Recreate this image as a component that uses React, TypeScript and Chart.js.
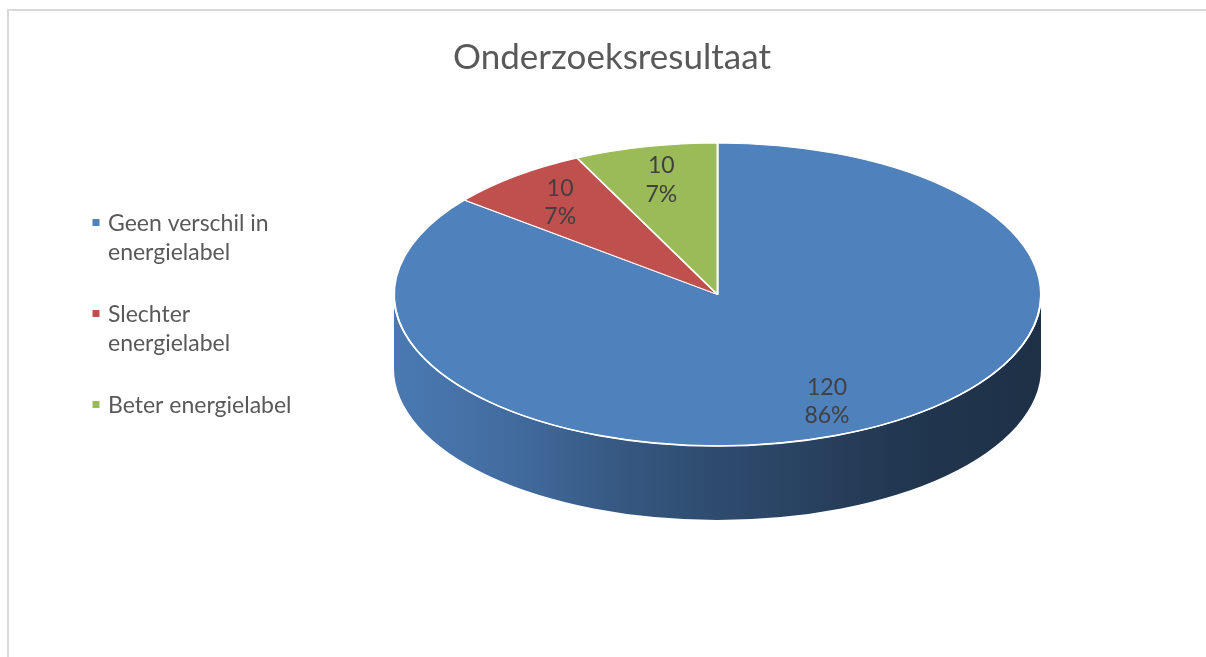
import React, { useEffect, useRef } from 'react';
import { Chart, registerables } from 'chart.js';

Chart.register(...registerables);

// ---- data ----
const categories = ['Geen verschil in energielabel', 'Slechter energielabel', 'Beter energielabel'];
const values = [120, 10, 10];
const colors = ['#4F81BD', '#C0504D', '#9BBB59'];
const chartTitle = 'Onderzoeksresultaat';

// ---- layout / style ----
const W = 1206;
const H = 657;
const CX = 717.5;
const CY = 294.5;
const RX = 323.5;
const RY = 151.5;
const DEPTH = 74;
const K = RY / RX;
const FONT = 'Lato, "Open Sans", "Noto Sans", sans-serif';
const TEXT_GREY = '#595959';
const LABEL_COLOR = '#404040';

function hexToRgb(hex: string) {
  const h = hex.replace('#', '');
  return [parseInt(h.slice(0, 2), 16), parseInt(h.slice(2, 4), 16), parseInt(h.slice(4, 6), 16)];
}
function shade(hex: string, f: number) {
  const [r, g, b] = hexToRgb(hex);
  return `rgb(${Math.round(r * f)},${Math.round(g * f)},${Math.round(b * f)})`;
}

const sideStops: [number, number][] = [
  [0, 0.94],
  [0.18, 0.84],
  [0.35, 0.68],
  [0.5, 0.58],
  [0.65, 0.5],
  [0.8, 0.42],
  [1, 0.37],
];

function wrapText(ctx: CanvasRenderingContext2D, text: string, maxWidth: number) {
  const words = text.split(' ');
  const lines: string[] = [];
  let cur = '';
  for (const w of words) {
    const test = cur ? cur + ' ' + w : w;
    if (ctx.measureText(test).width > maxWidth && cur) {
      lines.push(cur);
      cur = w;
    } else cur = test;
  }
  if (cur) lines.push(cur);
  return lines;
}

const pie3dPlugin = {
  id: 'pie3d',
  beforeDraw(chart: any) {
    const ctx = chart.ctx as CanvasRenderingContext2D;
    ctx.save();
    ctx.fillStyle = '#d9d9d9';
    ctx.fillRect(7, 9, 2, H - 9);
    ctx.fillRect(7, 9, W - 7, 2);
    ctx.restore();
  },
  beforeDatasetsDraw(chart: any) {
    const ctx = chart.ctx as CanvasRenderingContext2D;
    const meta = chart.getDatasetMeta(0);
    const first = meta.data[0];
    if (!first) return;
    const { x, y } = first.getProps(['x', 'y'], true);
    meta.data.forEach((el: any, i: number) => {
      const { startAngle, endAngle, outerRadius } = el.getProps(['startAngle', 'endAngle', 'outerRadius'], true);
      const R = outerRadius;
      const grad = ctx.createLinearGradient(x - R, 0, x + R, 0);
      sideStops.forEach(([p, f]) => grad.addColorStop(p, shade(colors[i], f)));
      for (let n = -1; n <= 1; n++) {
        const a = Math.max(startAngle, 2 * Math.PI * n);
        const b = Math.min(endAngle, 2 * Math.PI * n + Math.PI);
        if (b <= a) continue;
        ctx.save();
        ctx.beginPath();
        ctx.ellipse(x, y, R, R * K, 0, a, b, false);
        ctx.lineTo(x + R * Math.cos(b), y + R * K * Math.sin(b) + DEPTH);
        ctx.ellipse(x, y + DEPTH, R, R * K, 0, b, a, true);
        ctx.closePath();
        ctx.fillStyle = grad;
        ctx.fill();
        ctx.restore();
      }
    });
    ctx.save();
    ctx.translate(x, y);
    ctx.scale(1, K);
    ctx.translate(-x, -y);
  },
  afterDatasetsDraw(chart: any) {
    const ctx = chart.ctx as CanvasRenderingContext2D;
    ctx.restore();
    const meta = chart.getDatasetMeta(0);
    const data = chart.data.datasets[0].data as number[];
    const total = data.reduce((s, v) => s + v, 0);
    // white rim between top face and side
    const first = meta.data[0];
    if (first) {
      const { x, y, outerRadius } = first.getProps(['x', 'y', 'outerRadius'], true);
      ctx.save();
      ctx.strokeStyle = '#ffffff';
      ctx.lineWidth = 1.6;
      ctx.beginPath();
      ctx.ellipse(x, y, outerRadius, outerRadius * K, 0, 0, Math.PI, false);
      ctx.stroke();
      ctx.restore();
    }
    ctx.save();
    ctx.font = `23px ${FONT}`;
    ctx.fillStyle = LABEL_COLOR;
    ctx.textAlign = 'center';
    ctx.textBaseline = 'alphabetic';
    meta.data.forEach((el: any, i: number) => {
      const { startAngle, endAngle, outerRadius, x, y } = el.getProps(
        ['startAngle', 'endAngle', 'outerRadius', 'x', 'y'],
        true
      );
      const m = (startAngle + endAngle) / 2;
      const f = 0.78;
      const px = x + f * outerRadius * Math.cos(m);
      const py = y + f * outerRadius * K * Math.sin(m);
      const pct = Math.round((data[i] / total) * 100) + '%';
      ctx.fillText(String(data[i]), px, py - 14.25 + 8);
      ctx.fillText(pct, px, py + 14.25 + 8);
    });
    ctx.restore();
  },
  afterDraw(chart: any) {
    const ctx = chart.ctx as CanvasRenderingContext2D;
    ctx.save();
    // title
    ctx.font = `35px ${FONT}`;
    ctx.fillStyle = TEXT_GREY;
    ctx.textAlign = 'center';
    ctx.textBaseline = 'alphabetic';
    ctx.fillText(chartTitle, 612, 69);
    // legend
    ctx.font = `23px ${FONT}`;
    ctx.textAlign = 'left';
    const labels = chart.data.labels as string[];
    labels.forEach((lab, i) => {
      const base = 231 + i * 91;
      ctx.fillStyle = colors[i];
      ctx.fillRect(92.5, base - 12, 7, 7);
      ctx.fillStyle = TEXT_GREY;
      const lines = wrapText(ctx, lab, 200);
      lines.forEach((ln, j) => ctx.fillText(ln, 108, base + j * 28.5));
    });
    ctx.restore();
  },
};

export default function App() {
  const ref = useRef<HTMLCanvasElement>(null);
  useEffect(() => {
    if (!ref.current) return;
    const chart = new Chart(ref.current, {
      type: 'pie',
      data: {
        labels: categories,
        datasets: [
          {
            data: values,
            backgroundColor: colors,
            borderColor: '#ffffff',
            borderWidth: 2,
            radius: RX,
          } as any,
        ],
      },
      options: {
        responsive: false,
        animation: false,
        events: [],
        layout: { padding: { left: 2 * CX - W, right: 0, top: 0, bottom: H - 2 * CY } },
        plugins: {
          legend: { display: false },
          tooltip: { enabled: false },
          title: { display: false },
        },
      },
      plugins: [pie3dPlugin],
    });
    return () => chart.destroy();
  }, []);
  return (
    <div style={{ position: 'absolute', left: 0, top: 0, width: W, height: H, background: '#fff' }}>
      <canvas ref={ref} width={W} height={H} style={{ display: 'block' }} />
    </div>
  );
}
